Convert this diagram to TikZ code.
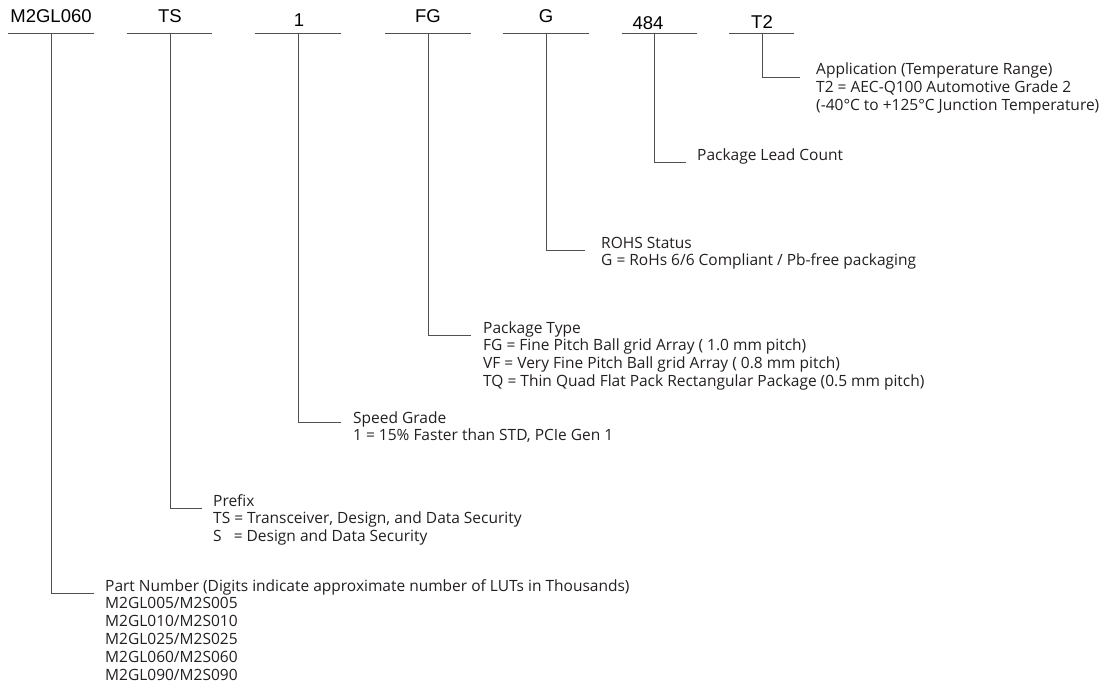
\documentclass[tikz,border=0pt]{standalone}
\usepackage{fontspec}
\setmainfont{Liberation Sans}
\newfontfamily\descfont{Open Sans}
\definecolor{txt}{HTML}{231F20}
\definecolor{ln}{HTML}{505050}
\tikzset{
  code/.style={font=\fontsize{18.5}{22}\selectfont, text=black, inner sep=0pt, anchor=base},
  desc/.style={font=\descfont\fontsize{15.5}{17.9}\selectfont, text=txt, inner sep=0pt, anchor=base west},
  rule/.style={draw=ln, line width=1pt},
  leader/.style={draw=ln, line width=1pt}
}
\newcommand{\blk}[1]{\begin{tabular}[t]{@{}l@{}}#1\end{tabular}}
\begin{document}
\begin{tikzpicture}[x=1pt,y=-1pt]
\useasboundingbox (0,0) rectangle (1102,687);
% top labels
\node[code] (c1) at (51,23) {M2GL060};
\node[code] (c2) at (170,23) {TS};
\node[code] (c3) at (299,27) {1};
\node[code] (c4) at (428,23) {FG};
\node[code] (c5) at (546,23) {G};
\node[code] (c6) at (648,30) {484};
\node[code] (c7) at (762,29) {T2};
% underline rules
\coordinate (l1a) at (8,34); \coordinate (l1b) at (94,34);
\coordinate (l2a) at (127,34); \coordinate (l2b) at (212,34);
\coordinate (l3a) at (255,34); \coordinate (l3b) at (341,34);
\coordinate (l4a) at (385,34); \coordinate (l4b) at (471,34);
\coordinate (l5a) at (503,34); \coordinate (l5b) at (589,34);
\coordinate (l6a) at (622,34); \coordinate (l6b) at (697,34);
\coordinate (l7a) at (729,34); \coordinate (l7b) at (794,34);
\foreach \i in {1,...,7} {\draw[rule] (l\i a) -- (l\i b);}
% stems
\coordinate (s1) at (51,34); \coordinate (e1) at (51,593); \coordinate (h1) at (94,593);
\coordinate (s2) at (170,34); \coordinate (e2) at (170,508); \coordinate (h2) at (202,508);
\coordinate (s3) at (298,34); \coordinate (e3) at (298,422); \coordinate (h3) at (341,422);
\coordinate (s4) at (428,34); \coordinate (e4) at (428,335); \coordinate (h4) at (471,335);
\coordinate (s5) at (546,34); \coordinate (e5) at (546,250); \coordinate (h5) at (585,250);
\coordinate (s6) at (654,34); \coordinate (e6) at (654,163); \coordinate (h6) at (686,163);
\coordinate (s7) at (762,34); \coordinate (e7) at (762,78); \coordinate (h7) at (800,78);
\foreach \i in {1,...,7} {\draw[leader] (s\i) -- (e\i) -- (h\i);}
% descriptions
\node[desc] (d7) at (816,75) {\blk{Application (Temperature Range)\\T2 = AEC-Q100 Automotive Grade 2\\(-40°C to +125°C Junction Temperature)}};
\node[desc] (d6) at (697,161) {\blk{Package Lead Count}};
\node[desc] (d5) at (601,248) {\blk{ROHS Status\\G = RoHs 6/6 Compliant / Pb-free packaging}};
\node[desc] (d4) at (483,333) {\blk{Package Type\\FG = Fine Pitch Ball grid Array ( 1.0 mm pitch)\\VF = Very Fine Pitch Ball grid Array ( 0.8 mm pitch)\\TQ = Thin Quad Flat Pack Rectangular Package (0.5 mm pitch)}};
\node[desc] (d3) at (353,423) {\blk{Speed Grade\\1 = 15\% Faster than STD, PCIe Gen 1}};
\node[desc] (d2) at (213,506) {\blk{Prefix\\TS = Transceiver, Design, and Data Security\\S\ \ \ = Design and Data Security}};
\node[desc] (d1) at (105,591) {\blk{Part Number (Digits indicate approximate number of LUTs in Thousands)\\M2GL005/M2S005\\M2GL010/M2S010\\M2GL025/M2S025\\M2GL060/M2S060\\M2GL090/M2S090}};
\end{tikzpicture}
\end{document}
